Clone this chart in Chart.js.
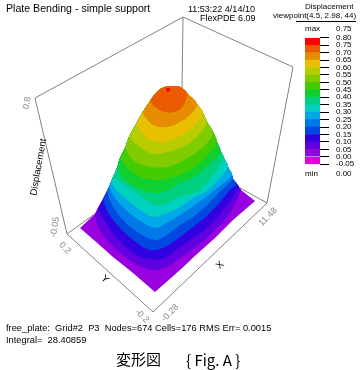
<!DOCTYPE html>
<html>
<head>
<meta charset="utf-8">
<style>
  body { margin: 0; background: #fff; }
  #wrap { position: relative; width: 360px; height: 370px; overflow: hidden; font-family: "Liberation Sans", Arial, sans-serif; color: #000; }
  canvas { position: absolute; }
  .t { position: absolute; white-space: pre; line-height: 1; }
  .r { transform: translate(-50%, -50%) rotate(var(--a)); color: #888; font-size: 9px; }
  .k { color: #000; font-size: 10px; }
</style>
</head>
<body>
<div id="wrap">
  <canvas id="surface" width="360" height="370" style="left:0;top:0"></canvas>
  <canvas id="bar" width="60" height="150" style="left:300px;top:26px"></canvas>

  <div class="t" style="left:6px;top:3px;font-size:10.6px">Plate Bending - simple support</div>
  <div class="t" style="left:188px;top:5px;font-size:9px">11:53:22 4/14/10</div>
  <div class="t" style="left:200px;top:14px;font-size:9px">FlexPDE 6.09</div>
  <div class="t" style="left:305px;top:3px;font-size:8px">Displacement</div>
  <div class="t" style="left:273px;top:12px;font-size:8px">viewpoint(4.5, 2.98, 44)</div>
  <div style="position:absolute;left:296px;top:21px;width:60px;height:1px;background:#000"></div>
  <div class="t" style="left:305px;top:25px;font-size:8px">max</div>
  <div class="t" style="left:336px;top:25px;font-size:8px">0.75</div>
  <div class="t" style="left:305px;top:170px;font-size:8px">min</div>
  <div class="t" style="left:336px;top:170px;font-size:8px">0.00</div>

  <div class="t r" style="left:27px;top:103px;--a:-80deg">0.8</div>
  <div class="t r" style="left:55px;top:227px;--a:-80deg">-0.05</div>
  <div class="t r k" style="left:38px;top:167px;--a:-80deg;font-size:9.5px">Displacement</div>
  <div class="t r" style="left:65px;top:248px;--a:45deg">0.2</div>
  <div class="t r k" style="left:105px;top:279px;--a:45deg">Y</div>
  <div class="t r" style="left:142px;top:316px;--a:45deg">-0.2</div>
  <div class="t r" style="left:170px;top:313px;--a:-45deg">-0.28</div>
  <div class="t r k" style="left:220px;top:265px;--a:-45deg">X</div>
  <div class="t r" style="left:268px;top:217px;--a:-45deg">11.48</div>

  <div class="t" style="left:6px;top:324px;font-size:9.3px">free_plate:  Grid#2  P3  Nodes=674 Cells=176 RMS Err= 0.0015</div>
  <div class="t" style="left:6px;top:336px;font-size:9.3px">Integral=  28.40859</div>
  <div class="t" style="left:116px;top:351px;font-size:15px;font-family:'Noto Sans CJK JP'">変形図</div>
  <div class="t" style="left:186px;top:352px;font-size:15px;font-family:'Noto Sans CJK JP'">{ Fig. A }</div>
</div>

<script src="https://cdn.jsdelivr.net/npm/chart.js@4"></script>
<script>
// colour bar
const barLevels = [-0.05, 0, 0.05, 0.1, 0.15, 0.2, 0.25, 0.3, 0.35, 0.4, 0.45, 0.5, 0.55, 0.6, 0.65, 0.7, 0.75, 0.8];
const barColors = ['#e000e0', '#9800e0', '#6000e0', '#3000e0', '#0048e0', '#0078e8', '#00a8e8', '#00d0c0', '#00d080',
  '#10d030', '#44cc00', '#80cc00', '#b8cc00', '#e8c000', '#e78c00', '#eb5a00', '#ff0000'];

// box edges of the 3D frame
const edgeTop = [[35, 98], [183, 17], [293, 67]];
const edgeLeft = [[35, 98], [67, 234], [153, 312], [267, 203], [293, 67]];
const edgeBackLeft = [[67, 234], [96, 213]];
const edgeBackRight = [[267, 203], [240, 188]];
const edgeBack = [[183, 17], [182, 90]];

// outer silhouette of the surface, right tip over the crown to the left tip
const silhouette = [[255, 201], [241, 190], [239, 187], [237, 184], [233, 179], [232, 175], [228, 167], [224, 158],
  [221, 152], [217, 142], [213, 132], [207, 122], [203, 113], [197, 104], [187, 93], [180, 87], [172, 86], [162, 88],
  [155, 94], [150, 101], [142, 113], [136, 124], [129, 137], [125, 148], [120, 158], [117, 168], [113, 177], [111, 182],
  [109, 187], [107, 191], [103, 199], [98, 208], [95, 214], [80, 228]];

// front edge of every contour, left junction to right junction
const front000 = [[80, 228], [95, 241], [113, 257], [133, 273], [155, 292], [180, 270], [197, 254], [215, 238], [233, 220], [255, 201]];
const front005 = [[95, 214], [98, 227], [110, 243], [127, 258], [142, 267], [155, 270], [170, 265], [180, 258], [197, 246], [213, 232], [230, 213], [241, 190]];
const front010 = [[98, 208], [105, 222], [117, 238], [132, 252], [147, 259], [165, 258], [180, 247], [195, 237], [210, 225], [225, 208], [239, 187]];
const front015 = [[103, 199], [108, 213], [120, 228], [133, 240], [150, 250], [165, 247], [180, 237], [193, 227], [208, 215], [222, 200], [230, 190], [237, 184]];
const front020 = [[107, 191], [112, 205], [123, 220], [137, 232], [155, 240], [165, 236], [180, 225], [193, 217], [207, 205], [222, 190], [233, 179]];
const front025 = [[109, 187], [115, 198], [128, 212], [142, 222], [155, 228], [165, 224], [180, 215], [195, 205], [215, 190], [232, 175]];
const front030 = [[111, 182], [118, 192], [130, 202], [145, 213], [155, 217], [165, 214], [180, 207], [195, 197], [208, 190], [228, 167]];
const front035 = [[113, 177], [125, 185], [140, 196], [155, 205], [165, 204], [180, 197], [200, 190], [224, 158]];
const front040 = [[117, 168], [125, 180], [137, 188], [153, 193], [165, 191], [180, 183], [197, 175], [212, 162], [221, 152]];
const front045 = [[120, 158], [130, 170], [143, 178], [160, 180], [180, 175], [197, 165], [210, 152], [217, 142]];
const front050 = [[125, 148], [133, 160], [150, 167], [167, 167], [180, 162], [197, 152], [208, 142], [213, 132]];
const front055 = [[129, 137], [137, 145], [153, 154], [167, 152], [180, 148], [193, 140], [203, 130], [207, 122]];
const front060 = [[136, 124], [147, 138], [163, 142], [180, 136], [193, 127], [203, 113]];
const front065 = [[142, 113], [153, 125], [167, 127], [180, 122], [190, 115], [197, 104]];
const front070 = [[150, 101], [155, 107], [165, 112], [175, 112], [183, 106], [187, 93]];
const peakSpot = [[166, 88], [170, 88], [170, 91], [167, 92]];

const contours = [front000, front005, front010, front015, front020, front025, front030, front035, front040,
  front045, front050, front055, front060, front065, front070];

function toPoints(list) {
  return list.map((p) => ({ x: p[0], y: p[1] }));
}

function silhouetteIndex(p) {
  let best = 0;
  let dist = Infinity;
  silhouette.forEach((s, i) => {
    const d = Math.hypot(s[0] - p[0], s[1] - p[1]);
    if (d < dist) { dist = d; best = i; }
  });
  return best;
}

// contour front plus the part of the silhouette above it
function regionOf(front) {
  const from = silhouetteIndex(front[front.length - 1]);
  const to = silhouetteIndex(front[0]);
  return front.concat(silhouette.slice(from + 1, to), [front[0]]);
}

const edgeStyle = { showLine: true, pointRadius: 0, borderColor: '#808080', borderWidth: 1, fill: false, order: 100 };
const datasets = [edgeTop, edgeLeft, edgeBackLeft, edgeBackRight, edgeBack].map((e) => ({
  ...edgeStyle,
  data: toPoints(e),
}));

contours.forEach((front, i) => {
  datasets.push({
    showLine: true,
    pointRadius: 0,
    borderWidth: 0,
    fill: 'shape',
    tension: i === 0 ? 0 : 0.35,
    backgroundColor: barColors[i + 1],
    data: toPoints(regionOf(front)),
    order: 50 - i,
  });
});
datasets.push({
  showLine: true,
  pointRadius: 0,
  borderWidth: 0,
  fill: 'shape',
  backgroundColor: barColors[16],
  data: toPoints(peakSpot.concat([peakSpot[0]])),
  order: 1,
});

new Chart(document.getElementById('surface'), {
  type: 'scatter',
  data: { datasets },
  options: {
    responsive: false,
    animation: false,
    layout: { padding: 0 },
    plugins: { legend: { display: false }, tooltip: { enabled: false } },
    scales: {
      x: { type: 'linear', min: 0, max: 360, display: false },
      y: { type: 'linear', min: 0, max: 370, reverse: true, display: false },
    },
  },
});

new Chart(document.getElementById('bar'), {
  type: 'bar',
  data: {
    labels: [''],
    datasets: barColors.map((c, i) => ({
      data: [[barLevels[i], barLevels[i + 1]]],
      backgroundColor: c,
      borderWidth: 0,
      barPercentage: 1,
      categoryPercentage: 1,
    })),
  },
  options: {
    responsive: false,
    animation: false,
    layout: { padding: { left: 5, top: 10, bottom: 11, right: 0 } },
    plugins: { legend: { display: false }, tooltip: { enabled: false } },
    scales: {
      x: { stacked: true, display: false },
      y: {
        position: 'right',
        min: -0.05,
        max: 0.8,
        afterBuildTicks: (s) => { s.ticks = barLevels.map((v) => ({ value: v })); },
        afterFit: (s) => { s.width = 40; },
        border: { display: false },
        grid: { drawOnChartArea: false, color: '#000', tickLength: 9 },
        ticks: {
          autoSkip: false,
          padding: 7,
          color: '#000',
          font: { family: 'Liberation Sans', size: 8 },
          callback: (v) => v.toFixed(2),
        },
      },
    },
  },
});
</script>
</body>
</html>
